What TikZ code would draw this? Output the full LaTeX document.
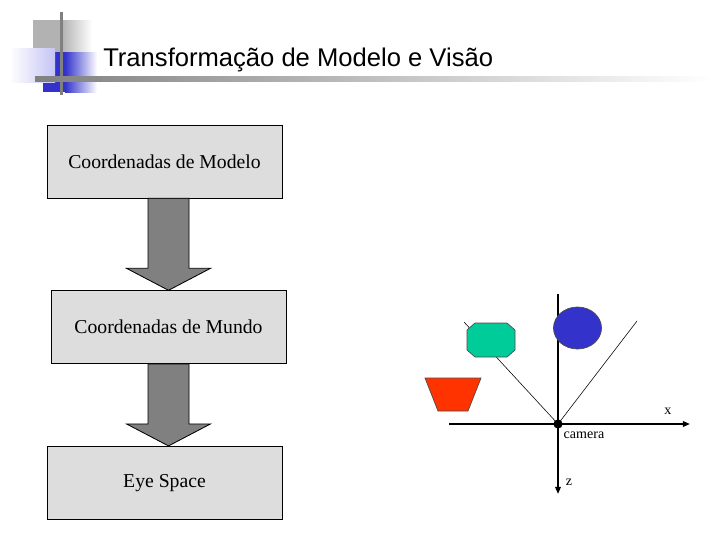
\documentclass[tikz,border=0pt]{standalone}
\usepackage{fontspec}
\setmainfont{Liberation Serif}
\newfontfamily\titleFont{Liberation Sans}
\usetikzlibrary{arrows.meta, calc, positioning}
\definecolor{boxGray}{HTML}{DDDDDD}
\definecolor{arrowGray}{HTML}{808080}
\definecolor{logoBlue}{HTML}{3333CC}
\definecolor{logoLilac}{HTML}{C4C4F4}
\definecolor{octGreen}{HTML}{00CC99}
\definecolor{trapRed}{HTML}{FF3300}
\tikzstyle{stage} = [rectangle, minimum width=5.875cm, minimum height=1.825cm, text centered, draw=black, fill=boxGray, font=\fontsize{14}{16}\selectfont]
\tikzstyle{bigArrow} = [draw=black, fill=arrowGray, line width=0.6pt]
\tikzstyle{axis} = [line width=1.4pt, -{Triangle[length=0.18cm, width=0.14cm]}]
\tikzstyle{sight} = [line width=0.4pt]
\tikzstyle{solid} = [draw=black!70, line width=0.5pt]
\tikzstyle{small} = [font=\fontsize{10}{12}\selectfont, inner sep=1pt]

% block arrow between two stages, on the axis of a third one
\newcommand{\stageArrow}[3]{%
    \draw [bigArrow] ($(#3.center |- #1.south)+(-20.5,0)$) -- ($(#3.center |- #1.south)+(20.5,0)$)
        -- ($(#3.center |- #2.north)+(20.5,-22)$) -- ($(#3.center |- #2.north)+(42,-22)$)
        -- (#3.center |- #2.north)
        -- ($(#3.center |- #2.north)+(-42,-22)$) -- ($(#3.center |- #2.north)+(-20.5,-22)$) -- cycle;
}

\begin{document}
\begin{tikzpicture}[x=0.025cm, y=-0.025cm]

    \fill [white] (0,0) rectangle (720,540);
    \useasboundingbox (0,0) rectangle (720,540);

    % title logo
    \fill [gray!60] (33,20) rectangle (62,52);
    \shade [left color=gray!60, right color=white] (62,20) rectangle (92,52);
    \fill [logoBlue] (43,52) rectangle (65,92);
    \shade [left color=logoBlue, right color=white] (65,52) rectangle (97,92);
    \shade [left color=white, right color=logoLilac] (10,48) rectangle (55,82);
    \draw [arrowGray, line width=2pt] (61.5,12) -- (61.5,95);
    \shade [left color=arrowGray, middle color=gray!55, right color=white] (35,76.5) rectangle (712,81.5);
    \node (title) [anchor=base west, inner sep=0pt, font=\titleFont\fontsize{18.2}{20}\selectfont] at (103,66) {Transformação de Modelo e Visão};

    % stages
    \node (model) [stage] at (164.5,161.5) {Coordenadas de Modelo};
    \node (world) [stage, below=2.3cm of model, xshift=0.1cm] {Coordenadas de Mundo};
    \node (eye) [stage, below=2.05cm of world, xshift=-0.1cm] {Eye Space};

    \stageArrow{model}{world}{world}
    \stageArrow{world}{eye}{world}

    % camera view
    \node (camera) [circle, fill=black, inner sep=0pt, minimum size=0.23cm] at (558,424) {};
    \coordinate (xLeft) at (449,424);
    \coordinate (xRight) at (690,424);
    \coordinate (zTop) at (558,294);
    \coordinate (zBottom) at (558,494);
    \coordinate (viewLeft) at (464,322);
    \coordinate (viewRight) at (637,321);

    \draw [sight] (camera.center) -- (viewLeft);
    \draw [sight] (camera.center) -- (viewRight);
    \draw [axis] (xLeft) -- (xRight);
    \draw [axis] (zTop) -- (zBottom);

    \draw [solid, fill=octGreen] (475,323) -- (507,323) -- (515,330) -- (515,350) -- (507,357)
        -- (475,357) -- (467,350) -- (467,330) -- cycle;
    \draw [solid, fill=logoBlue] (577.5,328) ellipse [x radius=0.6cm, y radius=0.525cm];
    \draw [solid, fill=trapRed] (425,378) -- (481,378) -- (468,411) -- (438,411) -- cycle;

    \node (xLabel) [small] at (668,411) {x};
    \node (zLabel) [small] at (569,482) {z};
    \node (camLabel) [small, anchor=west] at (562,435) {camera};

\end{tikzpicture}
\end{document}
